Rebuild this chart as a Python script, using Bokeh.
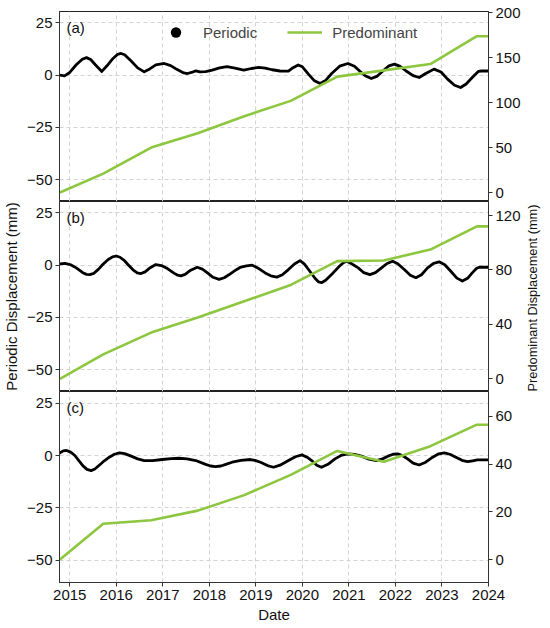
import math
from bokeh.plotting import figure
from bokeh.models import (Range1d, LinearAxis, FixedTicker, Label, Legend,
                          LegendItem, ColumnDataSource)
from bokeh.layouts import column
from bokeh.embed import file_html
from bokeh.resources import INLINE

# ---------------- data ----------------
years_a = [2014.79, 2014.89, 2015.00, 2015.14, 2015.27, 2015.36, 2015.45, 2015.55, 2015.69,
           2015.80, 2015.93, 2016.03, 2016.10, 2016.18, 2016.32, 2016.46, 2016.60, 2016.72,
           2016.85, 2017.03, 2017.17, 2017.30, 2017.45, 2017.53, 2017.62, 2017.71, 2017.80,
           2017.92, 2018.06, 2018.22, 2018.38, 2018.55, 2018.74, 2018.90, 2019.06, 2019.20,
           2019.35, 2019.52, 2019.70, 2019.80, 2019.91, 2020.00, 2020.13, 2020.25, 2020.38,
           2020.50, 2020.63, 2020.80, 2020.98, 2021.12, 2021.23, 2021.35, 2021.48, 2021.60,
           2021.73, 2021.86, 2021.98, 2022.10, 2022.23, 2022.38, 2022.51, 2022.65, 2022.83,
           2022.98, 2023.12, 2023.27, 2023.40, 2023.52, 2023.65, 2023.78, 2023.85, 2024.00]
periodic_a = [0.0, -0.3, 1.3, 5.0, 7.6, 8.4, 7.5, 5.0, 1.8,
              4.5, 8.0, 10.0, 10.4, 9.8, 6.8, 3.5, 1.6, 3.0,
              4.9, 5.6, 4.6, 2.8, 1.1, 0.8, 1.3, 2.1, 1.6,
              1.7, 2.4, 3.5, 4.1, 3.4, 2.4, 3.2, 3.7, 3.4,
              2.6, 2.0, 1.9, 3.6, 4.9, 4.0, 0.5, -2.5, -4.0,
              -2.5, 0.8, 4.3, 5.6, 4.3, 2.0, -0.3, -1.6, -0.6,
              2.0, 4.5, 5.3, 4.2, 2.0, -0.2, -1.1, 0.8, 2.9,
              1.5, -1.9, -4.8, -5.9, -4.2, -1.1, 1.8, 2.0, 2.0]

years_b = [2014.79, 2014.90, 2015.02, 2015.14, 2015.28, 2015.36, 2015.43, 2015.52, 2015.62,
           2015.71, 2015.82, 2015.92, 2016.00, 2016.08, 2016.17, 2016.25, 2016.36, 2016.45,
           2016.53, 2016.62, 2016.73, 2016.85, 2016.97, 2017.10, 2017.24, 2017.32, 2017.39,
           2017.48, 2017.60, 2017.74, 2017.85, 2017.96, 2018.08, 2018.21, 2018.32, 2018.42,
           2018.55, 2018.66, 2018.80, 2018.92, 2019.04, 2019.20, 2019.32, 2019.45, 2019.57,
           2019.70, 2019.83, 2019.95, 2020.04, 2020.16, 2020.28, 2020.35, 2020.41, 2020.50,
           2020.66, 2020.80, 2020.88, 2020.95, 2021.05, 2021.20, 2021.32, 2021.45, 2021.57,
           2021.70, 2021.82, 2021.94, 2022.05, 2022.19, 2022.32, 2022.44, 2022.56, 2022.69,
           2022.82, 2022.94, 2023.06, 2023.19, 2023.32, 2023.44, 2023.55, 2023.65, 2023.74,
           2023.80, 2024.00]
periodic_b = [0.6, 0.9, 0.2, -1.3, -3.6, -4.4, -4.5, -3.9, -1.9,
              0.3, 2.6, 4.0, 4.4, 3.8, 2.3, 0.3, -2.2, -3.7,
              -4.0, -3.2, -1.2, 0.3, -0.2, -1.6, -3.8, -4.8, -5.1,
              -4.4, -2.4, -1.0, -1.9, -3.7, -5.8, -6.8, -6.0, -4.6,
              -2.6, -1.1, -0.3, 0.0, -1.3, -3.7, -5.1, -5.7, -4.6,
              -2.1, 0.6, 2.2, 0.6, -2.9, -6.5, -8.0, -8.4, -7.2,
              -3.7, -0.4, 1.2, 1.9, 0.8, -1.3, -3.6, -4.5, -3.6,
              -1.3, 0.8, 1.9, 0.7, -2.1, -4.8, -6.0, -4.6, -1.3,
              0.9, 1.6, 0.2, -2.9, -6.2, -7.6, -6.3, -3.7, -1.6,
              -1.0, -1.0]

years_c = [2014.79, 2014.86, 2014.93, 2015.02, 2015.11, 2015.20, 2015.28, 2015.37, 2015.46,
           2015.54, 2015.64, 2015.75, 2015.85, 2015.96, 2016.07, 2016.18, 2016.32, 2016.46,
           2016.60, 2016.78, 2016.99, 2017.18, 2017.35, 2017.52, 2017.71, 2017.92, 2018.03,
           2018.13, 2018.25, 2018.37, 2018.49, 2018.68, 2018.88, 2018.98, 2019.10, 2019.25,
           2019.38, 2019.52, 2019.70, 2019.85, 2019.99, 2020.10, 2020.20, 2020.31, 2020.41,
           2020.55, 2020.70, 2020.85, 2020.98, 2021.12, 2021.27, 2021.43, 2021.59, 2021.72,
           2021.84, 2021.95, 2022.05, 2022.15, 2022.26, 2022.38, 2022.51, 2022.65, 2022.80,
           2022.93, 2023.05, 2023.17, 2023.30, 2023.43, 2023.55, 2023.66, 2023.76, 2024.00]
periodic_c = [1.3, 2.2, 2.4, 1.6, 0.0, -2.6, -4.8, -6.6, -7.2,
              -6.4, -4.5, -2.4, -0.8, 0.6, 1.3, 0.9, -0.3, -1.6,
              -2.4, -2.4, -1.9, -1.5, -1.3, -1.6, -2.4, -4.2, -5.0,
              -5.3, -5.0, -4.1, -3.2, -2.3, -1.9, -2.3, -3.2, -4.8,
              -5.6, -4.6, -2.4, -0.6, 0.3, -0.8, -2.4, -4.6, -5.6,
              -4.2, -1.6, 0.2, 0.8, 0.5, -0.3, -1.7, -2.4, -1.6,
              -0.3, 0.6, 0.8, 0.0, -1.6, -3.6, -4.5, -3.2, -0.8,
              0.8, 1.3, 0.6, -0.8, -2.3, -2.9, -2.5, -2.1, -2.1]

years_pred = [2014.79, 2015.72, 2016.75, 2017.75, 2018.75, 2019.75,
              2020.75, 2021.75, 2022.75, 2023.75, 2024.00]
predominant_a = [0, 21, 50, 66, 85, 102, 129, 136, 143, 174, 174]
predominant_b = [0, 18, 34, 45, 57, 69, 86.5, 87, 95, 112, 112]
predominant_c = [0, 15, 16.5, 20.5, 27, 35.5, 45.5, 41, 47.5, 56.5, 56.5]

year_ticks = [2015, 2016, 2017, 2018, 2019, 2020, 2021, 2022, 2023, 2024]
left_ticks = [-50, -25, 0, 25]
right_ticks_a = [0, 50, 100, 150, 200]
right_ticks_b = [0, 40, 80, 120]
right_ticks_c = [0, 20, 40, 60]
panel_labels = ["(a)", "(b)", "(c)"]

# ---------------- style ----------------
FONT = "Liberation Sans"
FS = "15px"
GREEN = "#8DC63F"
AXC = "#333333"
X0, X1 = 2014.78, 2024.0
Y0, Y1 = -60.5, 30.5
W = 550
BL, BR = 58, 61


def style_axis(ax):
    ax.major_label_text_font = FONT
    ax.major_label_text_font_size = FS
    ax.major_label_text_color = "#111111"
    ax.major_tick_out = 4
    ax.major_tick_in = 0
    ax.minor_tick_out = 0
    ax.minor_tick_in = 0
    ax.axis_line_color = AXC
    ax.major_tick_line_color = AXC
    ax.major_label_standoff = 3
    ax.axis_label_text_font = FONT
    ax.axis_label_text_font_size = FS
    ax.axis_label_text_font_style = "normal"
    ax.axis_label_text_color = "#111111"
    ax.axis_label_standoff = 4


def make_panel(years, per, pred, rrange, rticks, label, height, top, bottom,
               show_x=False, side_labels=False, legend=False):
    p = figure(width=W, height=height, x_range=Range1d(X0, X1),
               y_range=Range1d(Y0, Y1), output_backend="svg",
               toolbar_location=None, min_border_left=BL, min_border_right=BR,
               min_border_top=top, min_border_bottom=bottom)
    p.extra_y_ranges = {"right": Range1d(*rrange)}
    p.background_fill_color = "white"
    p.border_fill_color = "white"
    p.outline_line_color = "#222222"
    p.outline_line_width = 1

    xa = p.xaxis[0]
    xa.ticker = FixedTicker(ticks=year_ticks)
    style_axis(xa)
    if show_x:
        xa.axis_label = "Date"
        xa.axis_label_standoff = 3
    else:
        xa.visible = False
    ya = p.yaxis[0]
    ya.ticker = FixedTicker(ticks=left_ticks)
    ya.major_label_overrides = {t: str(t).replace("-", "\u2212") for t in left_ticks}
    style_axis(ya)
    ra = LinearAxis(y_range_name="right", ticker=FixedTicker(ticks=rticks))
    style_axis(ra)
    if side_labels:
        ya.axis_label = "Periodic Displacement (mm)"
        ra.axis_label = "Predominant Displacement (mm)"
        ra.axis_label_text_font_size = "12.8px"
        ra.axis_label_standoff = 9
        try:
            ra.axis_label_align = "start"
            ra.axis_label_orientation = math.pi / 2
        except Exception:
            ra.axis_label_orientation = "parallel"
    p.add_layout(ra, "right")

    p.xgrid.ticker = FixedTicker(ticks=year_ticks)
    p.ygrid.ticker = FixedTicker(ticks=left_ticks)
    for g in (p.xgrid, p.ygrid):
        g.grid_line_color = "#d4d4d4"
        g.grid_line_dash = "4 3"
        g.grid_line_width = 1

    src_p = ColumnDataSource(dict(x=years, y=per))
    src_g = ColumnDataSource(dict(x=years_pred, y=pred))
    p.line("x", "y", source=src_p, line_color="black", line_width=2.8,
           line_join="round", line_cap="round")
    gr = p.line("x", "y", source=src_g, line_color=GREEN, line_width=2.6,
                y_range_name="right", line_join="round")

    p.add_layout(Label(x=X0 + 0.15, y=Y1 - 3.8, text=label, text_font=FONT,
                       text_font_size=FS, text_baseline="top", text_color="#111111"))

    if legend:
        marker = p.scatter(x=years[:1], y=per[:1], size=0, fill_color="black",
                           line_color="black", line_width=0)
        lg = Legend(items=[LegendItem(label="Periodic", renderers=[marker]),
                           LegendItem(label="Predominant", renderers=[gr])],
                    location=(99, 156), orientation="horizontal",
                    border_line_alpha=0, background_fill_alpha=0,
                    padding=0, margin=0, spacing=30, glyph_width=35,
                    glyph_height=26, label_height=26, label_standoff=10,
                    label_text_font=FONT, label_text_font_size=FS)
        p.add_layout(lg)
    return p


pa = make_panel(years_a, periodic_a, predominant_a, (-10, 201.5), right_ticks_a,
                panel_labels[0], 201, 11, 0, legend=True)
pb = make_panel(years_b, periodic_b, predominant_b, (-9.3, 130.3), right_ticks_b,
                panel_labels[1], 190, 0, 0, side_labels=True)
pc = make_panel(years_c, periodic_c, predominant_c, (-9.6, 70.4), right_ticks_c,
                panel_labels[2], 237, 0, 46, show_x=True)

layout = column(pa, pb, pc, spacing=0)
open("out.html", "w").write(file_html(layout, INLINE))
